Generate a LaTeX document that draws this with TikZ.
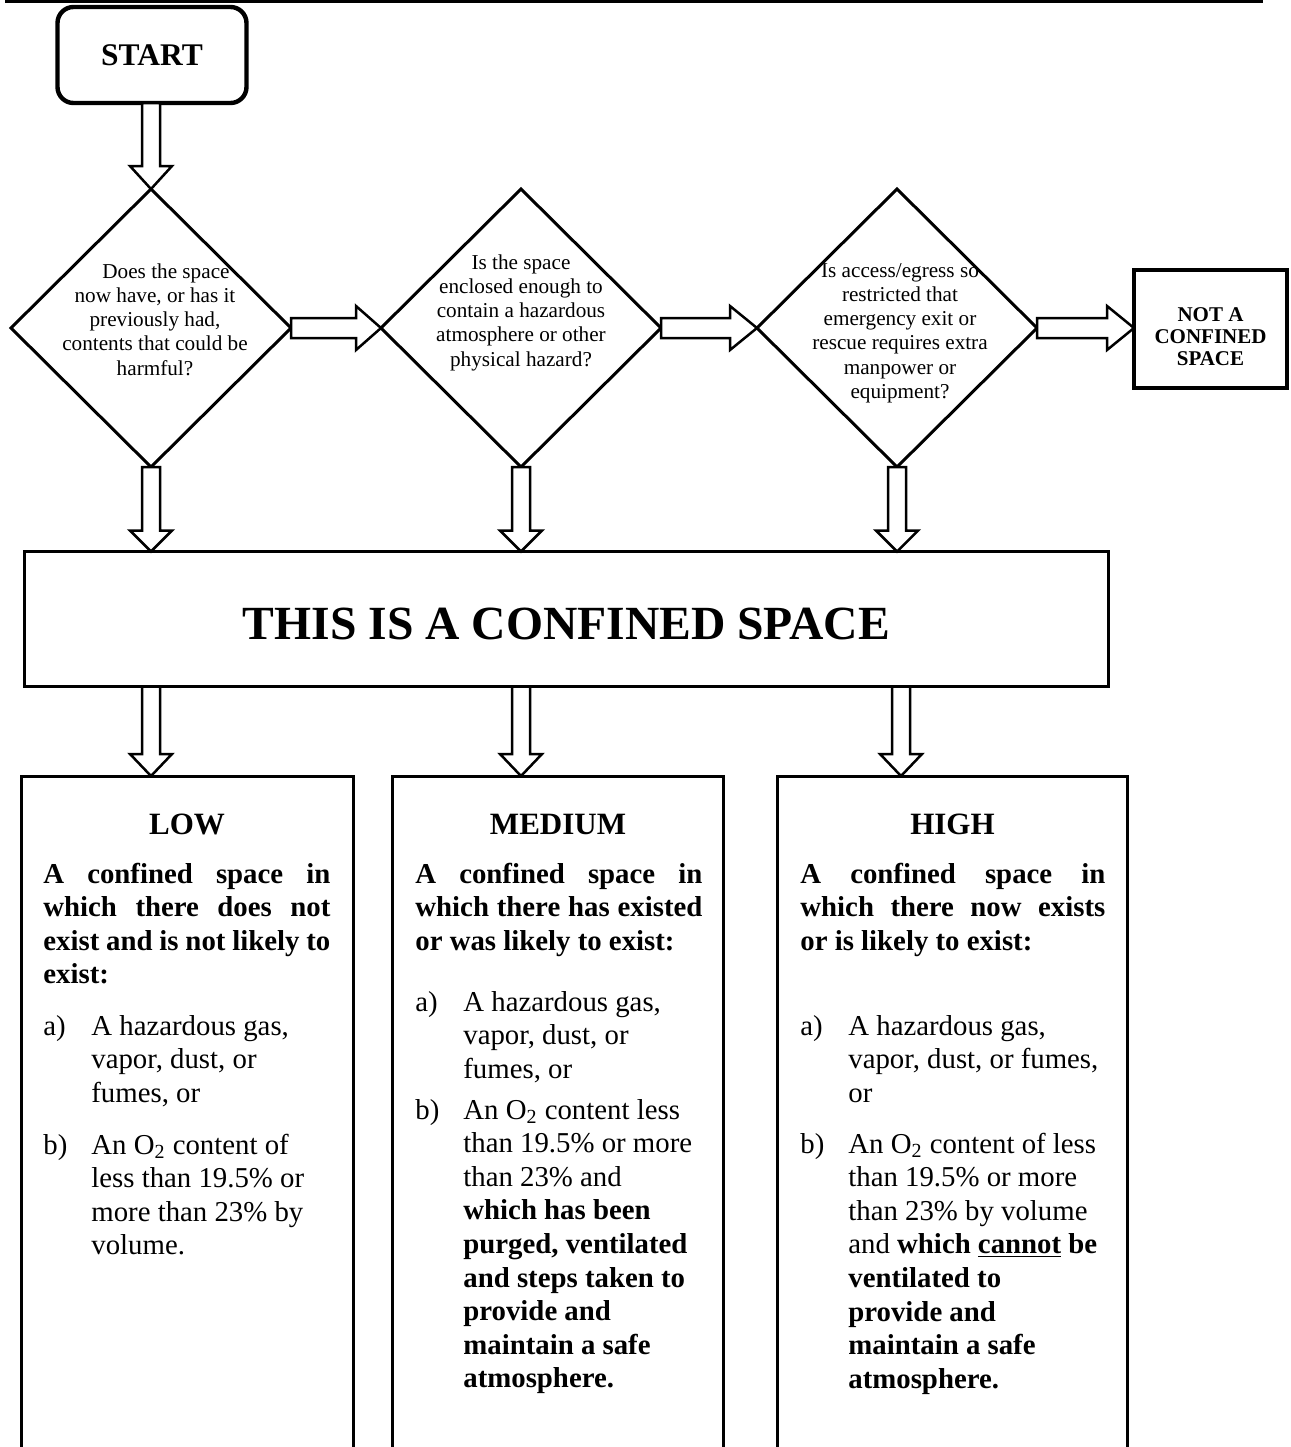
\documentclass[tikz,border=0pt]{standalone}
\usepackage{fontspec}
\setmainfont{Liberation Serif}
\usetikzlibrary{shapes.geometric,calc}

\newcommand{\jline}[1]{\makebox[\linewidth][s]{#1}}
\newcommand{\lbl}[1]{\makebox[24pt][l]{#1}}
% vertical hollow block arrow: from #1 down to tip #2, head length #3 (px)
\newcommand{\varrowshape}[3]{%
  \draw[blockarrow] ($(#1)+(-9,0)$) -- ($(#2)+(-9,-#3)$) -- ($(#2)+(-21,-#3)$) -- (#2)
    -- ($(#2)+(21,-#3)$) -- ($(#2)+(9,-#3)$) -- ($(#1)+(9,0)$) -- cycle;}
% horizontal hollow block arrow: from #1 right to tip #2
\newcommand{\harrowshape}[3]{%
  \draw[blockarrow] ($(#1)+(0,-10)$) -- ($(#2)+(-#3,-10)$) -- ($(#2)+(-#3,-22)$) -- (#2)
    -- ($(#2)+(-#3,22)$) -- ($(#2)+(-#3,10)$) -- ($(#1)+(0,10)$) -- cycle;}

\tikzset{
  startbox/.style={draw, line width=2.2pt, rounded corners=8pt, minimum width=94.5pt,
    minimum height=48pt, inner sep=0pt, outer sep=0pt, font=\fontsize{15.75}{18}\selectfont\bfseries},
  decision/.style={draw, diamond, line width=1.5pt, minimum width=140pt, minimum height=139pt,
    inner sep=0pt, outer sep=0pt},
  qtext/.style={inner sep=0pt, anchor=base, font=\fontsize{10.6}{12.15}\selectfont},
  notbox/.style={draw, line width=2pt, minimum width=76.5pt, minimum height=59pt, inner sep=0pt,
    outer sep=0pt, font=\fontsize{10.5}{11}\selectfont\bfseries},
  mainbox/.style={draw, line width=1.5pt, minimum width=542pt, minimum height=67.5pt, inner sep=0pt,
    outer sep=0pt, font=\fontsize{23.8}{28}\selectfont\bfseries},
  panel/.style={inner sep=0pt, outer sep=0pt, minimum height=342pt},
  panelline/.style={line width=1.5pt, line join=miter},
  heading/.style={inner sep=0pt, anchor=base, font=\fontsize{15.5}{17}\selectfont\bfseries},
  boldpara/.style={inner sep=0pt, anchor=base west, font=\fontsize{14.4}{16.8}\selectfont\bfseries},
  itempara/.style={inner sep=0pt, anchor=base west, font=\fontsize{14.4}{16.8}\selectfont},
  blockarrow/.style={draw, fill=white, line width=1.25pt, line join=miter},
}

\begin{document}
\begin{tikzpicture}[x=0.5pt, y=-0.5pt]
\useasboundingbox (0,0) rectangle (1291,1447);

% top rule
\draw[line width=1.5pt] (5,1.5) -- (1263,1.5);

% start
\node[startbox] (start) at (152,55) {START};

% decisions
\node[decision] (d1) at (151,328) {};
\node[decision] (d2) at (521,328) {};
\node[decision] (d3) at (897,328) {};

\node[qtext] (q1) at (155,278) {\parbox[t]{160pt}{\centering\hspace*{11pt}Does the space\\now have, or has it\\previously had,\\contents that could be\\harmful?}};
\node[qtext] (q2) at (521,269) {\parbox[t]{160pt}{\centering Is the space\\enclosed enough to\\contain a hazardous\\atmosphere or other\\physical hazard?}};
\node[qtext] (q3) at (900,277) {\parbox[t]{160pt}{\centering Is access/egress so\\restricted that\\emergency exit or\\rescue requires extra\\manpower or\\equipment?}};

% not a confined space
\node[notbox] (nc) at (1210.5,329) {\raisebox{-4pt}[\height][\depth]{\parbox{76pt}{\centering NOT A\\CONFINED\\SPACE}}};

% main box
\node[mainbox] (cs) at (566.5,619) {\raisebox{-2.5pt}[\height][\depth]{THIS IS A CONFINED SPACE}};

% panels (open at the bottom)
\node[panel, minimum width=166.25pt] (low) at (187.25,1118) {};
\node[panel, minimum width=165.75pt] (med) at (557.75,1118) {};
\node[panel, minimum width=175.25pt] (high) at (952.25,1118) {};
\draw[panelline] (low.south west) -- (low.north west) -- (low.north east) -- (low.south east);
\draw[panelline] (med.south west) -- (med.north west) -- (med.north east) -- (med.south east);
\draw[panelline] (high.south west) -- (high.north west) -- (high.north east) -- (high.south east);

% LOW
\node[heading] (lowh) at (187,834) {LOW};
\node[boldpara] (lowp) at (43,883) {\parbox[t]{143.5pt}{\jline{A confined space in}\\\jline{which there does not}\\\jline{exist and is not likely to}\\exist:}};
\node[itempara] (lowa) at (43,1035) {\parbox[t]{200pt}{\hangindent=24pt\hangafter=1\noindent\lbl{a)}A hazardous gas,\\vapor, dust, or\\fumes, or}};
\node[itempara] (lowb) at (43,1154) {\parbox[t]{200pt}{\hangindent=24pt\hangafter=1\noindent\lbl{b)}An O\textsubscript{2} content of\\less than 19.5\% or\\more than 23\% by\\volume.}};

% MEDIUM
\node[heading] (medh) at (558,834) {MEDIUM};
\node[boldpara] (medp) at (415,883) {\parbox[t]{143.5pt}{\jline{A confined space in}\\\jline{which there has existed}\\or was likely to exist:}};
\node[itempara] (meda) at (415,1011) {\parbox[t]{200pt}{\hangindent=24pt\hangafter=1\noindent\lbl{a)}A hazardous gas,\\vapor, dust, or\\fumes, or}};
\node[itempara] (medb) at (415,1119) {\parbox[t]{200pt}{\hangindent=24pt\hangafter=1\noindent\lbl{b)}An O\textsubscript{2} content less\\than 19.5\% or more\\than 23\% and\\{\bfseries which has been\\purged, ventilated\\and steps taken to\\provide and\\maintain a safe\\atmosphere.}}};

% HIGH
\node[heading] (highh) at (952.5,834) {HIGH};
\node[boldpara] (highp) at (800,883) {\parbox[t]{152.5pt}{\jline{A confined space in}\\\jline{which there now exists}\\or is likely to exist:}};
\node[itempara] (higha) at (800,1035) {\parbox[t]{200pt}{\hangindent=24pt\hangafter=1\noindent\lbl{a)}A hazardous gas,\\vapor, dust, or fumes,\\or}};
\node[itempara] (highb) at (800,1153) {\parbox[t]{200pt}{\hangindent=24pt\hangafter=1\noindent\lbl{b)}An O\textsubscript{2} content of less\\than 19.5\% or more\\than 23\% by volume\\and {\bfseries which \underline{cannot} be\\ventilated to\\provide and\\maintain a safe\\atmosphere.}}};

% connector end points
\coordinate (s0) at (d1.north |- start.south);
\coordinate (n0) at (nc.west |- d3.east);
\coordinate (t1) at (d1.south |- cs.north);
\coordinate (t2) at (d2.south |- cs.north);
\coordinate (t3) at (d3.south |- cs.north);
\coordinate (u1) at (d1.south |- cs.south);
\coordinate (u2) at (d2.south |- cs.south);
\coordinate (u3) at ($(d3.south |- cs.south)+(4,0)$);
\coordinate (p1) at (d1.south |- low.north);
\coordinate (p2) at (d2.south |- med.north);
\coordinate (p3) at (u3 |- high.north);

% arrows
\varrowshape{s0}{d1.north}{23}
\harrowshape{d1.east}{d2.west}{25}
\harrowshape{d2.east}{d3.west}{27}
\harrowshape{d3.east}{n0}{27}
\varrowshape{d1.south}{t1}{21}
\varrowshape{d2.south}{t2}{21}
\varrowshape{d3.south}{t3}{21}
\varrowshape{u1}{p1}{22}
\varrowshape{u2}{p2}{22}
\varrowshape{u3}{p3}{22}
\end{tikzpicture}
\end{document}
